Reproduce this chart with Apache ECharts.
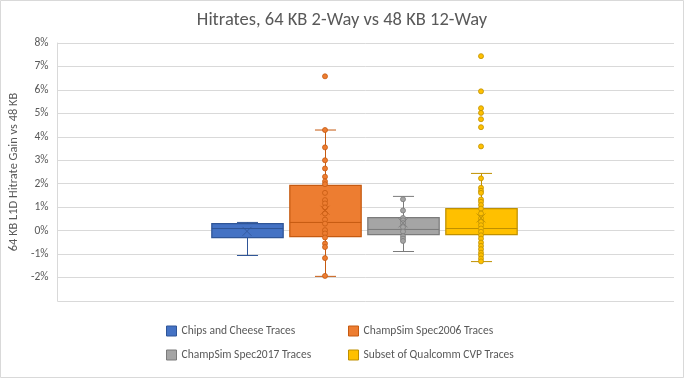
<!DOCTYPE html>
<html>
<head>
<meta charset="utf-8">
<script src="https://cdn.jsdelivr.net/npm/echarts@6/dist/echarts.min.js"></script>
<style>html,body{margin:0;padding:0;background:#fff;}#c{width:684px;height:378px;}</style>
</head>
<body>
<div id="c"></div>
<script>
const seriesNames = ['Chips and Cheese Traces', 'ChampSim Spec2006 Traces', 'ChampSim Spec2017 Traces', 'Subset of Qualcomm CVP Traces'];
const whiskerLow  = [-1.06, -1.95, -0.89, -1.32];
const quartile1   = [-0.30, -0.25, -0.17, -0.17];
const medians     = [0.09, 0.35, 0.05, 0.09];
const quartile3   = [0.30, 1.93, 0.56, 0.94];
const whiskerHigh = [0.35, 4.29, 1.46, 2.44];
const means       = [-0.03, 0.87, 0.33, 0.54];
const chipsPoints    = [];
const spec2006Points = [6.58, 4.29, 3.55, 3.00, 2.65, 2.30, 2.10, 1.98, 1.61, 1.30, 1.16, 0.99, 0.73, 0.47, 0.30, 0.02, -0.12, -0.29, -0.55, -0.70, -1.17, -1.93];
const spec2017Points = [1.34, 0.86, 0.54, 0.44, 0.32, 0.15, -0.04, -0.24, -0.34, -0.44];
const qualcommPoints = [7.44, 5.94, 5.22, 5.02, 4.75, 4.41, 3.59, 2.23, 1.83, 1.70, 1.61, 1.33, 1.23, 1.09, 0.94, 0.73, 0.52, 0.37, 0.23, 0.09, -0.05, -0.20, -0.34, -0.51, -0.65, -0.79, -0.94, -1.05, -1.19, -1.31];
const yTicks = { min: -3, max: 8, interval: 1 };

const fills = ['#4472C4', '#ED7D31', '#A5A5A5', '#FFC000'];
const strokes = ['#2F5597', '#C55A11', '#7B7B7B', '#BF9000'];
const FONT = 'Carlito, Calibri, "Liberation Sans", sans-serif';
const pointSets = [chipsPoints, spec2006Points, spec2017Points, qualcommPoints];

const boxData = seriesNames.map((n, i) => [i, whiskerLow[i], quartile1[i], medians[i], quartile3[i], whiskerHigh[i]]);

const series = [{
  type: 'custom',
  xAxisIndex: 1, yAxisIndex: 1,
  data: boxData,
  z: 2,
  renderItem: function (params, api) {
    const i = api.value(0);
    const pMin = api.coord([i, api.value(1)]);
    const pQ1 = api.coord([i, api.value(2)]);
    const pMed = api.coord([i, api.value(3)]);
    const pQ3 = api.coord([i, api.value(4)]);
    const pMax = api.coord([i, api.value(5)]);
    const band = api.size([1, 0])[0];
    const cx = Math.round(pMin[0]) + 0.5;
    const bw = band * 0.915;
    const cw = band * 0.27;
    const st = { stroke: strokes[i], lineWidth: 1 };
    return {
      type: 'group',
      children: [
        { type: 'line', shape: { x1: cx, y1: pQ3[1], x2: cx, y2: pMax[1] }, style: st },
        { type: 'line', shape: { x1: cx - cw / 2, y1: pMax[1], x2: cx + cw / 2, y2: pMax[1] }, style: st },
        { type: 'line', shape: { x1: cx, y1: pQ1[1], x2: cx, y2: pMin[1] }, style: st },
        { type: 'line', shape: { x1: cx - cw / 2, y1: pMin[1], x2: cx + cw / 2, y2: pMin[1] }, style: st },
        { type: 'rect', shape: { x: cx - bw / 2, y: pQ3[1], width: bw, height: pQ1[1] - pQ3[1] }, style: { fill: fills[i], stroke: strokes[i], lineWidth: 1.25 } },
        { type: 'line', shape: { x1: cx - bw / 2, y1: pMed[1], x2: cx + bw / 2, y2: pMed[1] }, style: st }
      ]
    };
  }
}];

seriesNames.forEach((name, i) => {
  series.push({
    name: name,
    type: 'scatter',
    xAxisIndex: 1, yAxisIndex: 1,
    data: pointSets[i].map(v => [i, v]),
    symbol: 'circle',
    symbolSize: 5,
    z: 3,
    itemStyle: { color: fills[i], borderColor: strokes[i], borderWidth: 0.8, opacity: 1 },
    emphasis: { disabled: true }
  });
});

series.push({
  type: 'scatter',
  xAxisIndex: 1, yAxisIndex: 1,
  data: means.map((v, i) => ({ value: [i, v], itemStyle: { borderColor: strokes[i] } })),
  symbol: 'path://M0,0L10,10M10,0L0,10',
  symbolSize: 9,
  z: 4,
  itemStyle: { color: 'rgba(0,0,0,0)', borderWidth: 1 },
  emphasis: { disabled: true }
});

const legendPos = [[166, 319], [348, 319], [166, 343], [348, 343]];
const legends = seriesNames.map((n, i) => ({
  left: legendPos[i][0] - 5, top: legendPos[i][1],
  icon: 'rect', itemWidth: 10, itemHeight: 10, itemGap: 0,
  selectedMode: false,
  textStyle: { color: '#595959', fontSize: 11.5, fontFamily: FONT, lineHeight: 14 },
  data: [{ name: n, itemStyle: { color: fills[i], borderColor: strokes[i], borderWidth: 1 } }]
}));

const option = {
  animation: false,
  backgroundColor: '#fff',
  title: {
    text: 'Hitrates, 64 KB 2-Way vs 48 KB 12-Way',
    left: 'center', top: 6,
    textStyle: { color: '#595959', fontSize: 18.5, fontWeight: 'normal', fontFamily: FONT }
  },
  legend: legends,
  graphic: [{ type: 'rect', shape: { x: 0.5, y: 0.5, width: 683, height: 377 }, style: { fill: 'none', stroke: '#D9D9D9', lineWidth: 1 }, silent: true }],
  grid: [
    { left: 57, right: 10, top: 43, bottom: 77 },
    { left: 208, width: 312, top: 43, bottom: 77 }
  ],
  xAxis: [
    { type: 'category', gridIndex: 0, data: [''], axisLine: { show: true, lineStyle: { color: '#D9D9D9' } }, axisTick: { show: false }, axisLabel: { show: false } },
    { type: 'category', gridIndex: 1, data: seriesNames, show: false }
  ],
  yAxis: [
    {
      type: 'value', gridIndex: 0, min: yTicks.min, max: yTicks.max, interval: yTicks.interval,
      name: '64 KB L1D Hitrate Gain vs 48 KB', nameLocation: 'middle', nameRotate: 90, nameGap: 29,
      nameTextStyle: { color: '#595959', fontSize: 12.4, fontFamily: FONT },
      axisLine: { show: true, lineStyle: { color: '#D9D9D9' } },
      axisTick: { show: false },
      splitLine: { lineStyle: { color: '#D9D9D9', width: 1 } },
      axisLabel: { color: '#595959', fontSize: 11.5, fontFamily: FONT, margin: 9, showMinLabel: false,
        formatter: v => (v === yTicks.min ? '' : v + '%') }
    },
    { type: 'value', gridIndex: 1, min: yTicks.min, max: yTicks.max, interval: yTicks.interval, show: false, splitLine: { show: false } }
  ],
  series: series
};

const chart = echarts.init(document.getElementById('c'), null, { renderer: 'canvas' });
chart.setOption(option);
</script>
</body>
</html>
